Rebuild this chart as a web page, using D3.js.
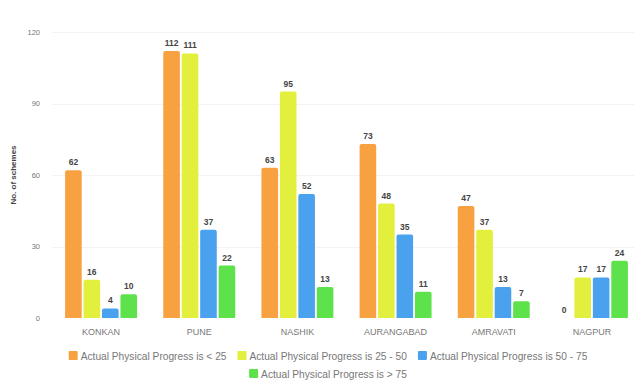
<!DOCTYPE html>
<html>
<head>
<meta charset="utf-8">
<script src="https://cdn.jsdelivr.net/npm/d3@7"></script>
<style>
  html, body { margin: 0; padding: 0; background: #fff; }
  svg { display: block; font-family: "Liberation Sans", Arial, sans-serif; }
</style>
</head>
<body>
<svg id="chart" width="634" height="380"></svg>
<script>
// Division-wise count of schemes by physical progress band
const divisions = ["KONKAN", "PUNE", "NASHIK", "AURANGABAD", "AMRAVATI", "NAGPUR"];
const seriesNames = [
  "Actual Physical Progress is < 25",
  "Actual Physical Progress is 25 - 50",
  "Actual Physical Progress is 50 - 75",
  "Actual Physical Progress is > 75"
];
const progressBelow25 = [62, 112, 63, 73, 47, 0];
const progress25to50 = [16, 111, 95, 48, 37, 17];
const progress50to75 = [4, 37, 52, 35, 13, 17];
const progressAbove75 = [10, 22, 13, 11, 7, 24];
const yTicks = [0, 30, 60, 90, 120];
const colors = ["#f7a140", "#e2ef3c", "#4aa2ee", "#5de24c"];

const seriesValues = [progressBelow25, progress25to50, progress50to75, progressAbove75];

const svg = d3.select("#chart");
const plot = { left: 52, right: 641, top: 32, bottom: 318 };

const y = d3.scaleLinear().domain([0, 120]).range([plot.bottom, plot.top]);
const x0 = d3.scaleBand().domain(divisions).range([plot.left, plot.right])
  .paddingInner(0.267).paddingOuter(0.1335);
const x1 = d3.scaleBand().domain(d3.range(seriesNames.length))
  .range([0, x0.bandwidth()]).paddingInner(0.1);

// gridlines
svg.append("g")
  .selectAll("line").data(yTicks.slice(1)).join("line")
  .attr("x1", plot.left).attr("x2", 634)
  .attr("y1", d => Math.round(y(d)) + 0.5).attr("y2", d => Math.round(y(d)) + 0.5)
  .attr("stroke", "#f3f3f3").attr("stroke-width", 1);

// y axis
const yAxis = svg.append("g")
  .attr("transform", `translate(${plot.left - 12},0)`)
  .call(d3.axisLeft(y).tickValues(yTicks).tickSize(0).tickPadding(0));
yAxis.select(".domain").remove();
yAxis.selectAll("text").attr("fill", "#777").attr("font-size", 7.5)
  .attr("font-family", "\"Liberation Sans\", Arial, sans-serif");

svg.append("text")
  .attr("transform", `translate(16,${(plot.top + plot.bottom) / 2}) rotate(-90)`)
  .attr("text-anchor", "middle")
  .attr("font-size", 8).attr("font-weight", "bold").attr("fill", "#444")
  .text("No. of schemes");

// x axis labels
const xAxis = svg.append("g")
  .attr("transform", `translate(0,${plot.bottom})`)
  .call(d3.axisBottom(x0).tickSize(0).tickPadding(11));
xAxis.select(".domain").remove();
xAxis.selectAll("text").attr("fill", "#777").attr("font-size", 9)
  .attr("font-family", "\"Liberation Sans\", Arial, sans-serif");

// bars
const rows = divisions.map((d, i) => ({ division: d, values: seriesValues.map(s => s[i]) }));
const groups = svg.append("g").selectAll("g").data(rows).join("g")
  .attr("transform", d => `translate(${x0(d.division)},0)`);

function barPath(x, w, top, bottom, r) {
  const h = bottom - top;
  if (h <= 0) return "";
  const rr = Math.min(r, h, w / 2);
  return `M${x},${bottom}V${top + rr}Q${x},${top} ${x + rr},${top}` +
         `H${x + w - rr}Q${x + w},${top} ${x + w},${top + rr}V${bottom}Z`;
}

groups.selectAll("path").data(d => d.values.map((v, k) => ({ v, k }))).join("path")
  .attr("d", d => barPath(x1(d.k), x1.bandwidth(), y(d.v), y(0), 2))
  .attr("fill", d => colors[d.k]);

groups.selectAll("text").data(d => d.values.map((v, k) => ({ v, k }))).join("text")
  .attr("x", d => x1(d.k) + x1.bandwidth() / 2)
  .attr("y", d => y(d.v) - 5)
  .attr("text-anchor", "middle")
  .attr("font-size", 8.5).attr("font-weight", "bold")
  .attr("fill", "#444")
  .attr("stroke", "#fff").attr("stroke-width", 2).attr("paint-order", "stroke")
  .text(d => d.v);

// legend
const legendRows = [[0, 1, 2], [3]];
const legendY = [356, 374];
const legendCenter = 328;
const legend = svg.append("g");
legendRows.forEach((row, ri) => {
  const items = row.map(k => {
    const g = legend.append("g");
    g.append("rect").attr("width", 9).attr("height", 9).attr("rx", 1).attr("fill", colors[k]);
    const t = g.append("text").attr("x", 12).attr("y", 8.5)
      .attr("font-size", 10.2).attr("fill", "#777").text(seriesNames[k]);
    return { g, w: 12 + t.node().getComputedTextLength() };
  });
  const gap = 11;
  const total = d3.sum(items, d => d.w) + gap * (items.length - 1);
  let cx = legendCenter - total / 2;
  items.forEach(it => {
    it.g.attr("transform", `translate(${cx},${legendY[ri] - 5})`);
    cx += it.w + gap;
  });
});
</script>
</body>
</html>
